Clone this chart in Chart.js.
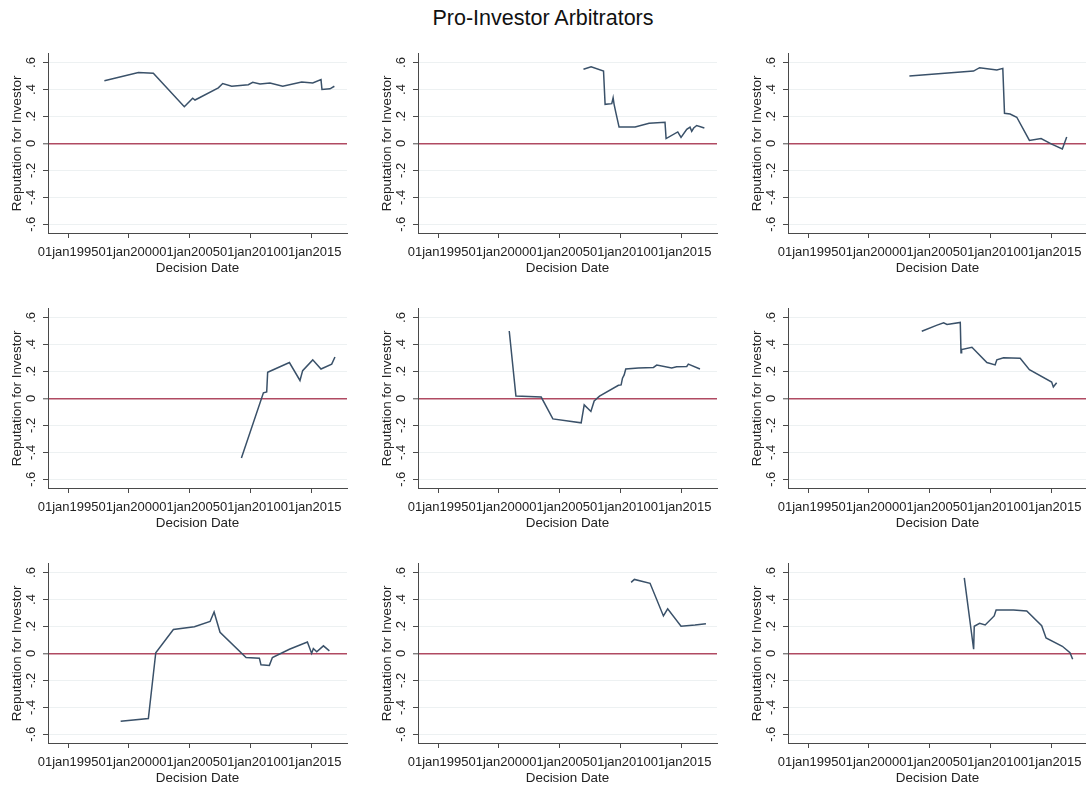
<!DOCTYPE html>
<html>
<head>
<meta charset="utf-8">
<script src="https://cdn.jsdelivr.net/npm/chart.js@4/dist/chart.umd.min.js"></script>
<style>
  html, body { margin: 0; padding: 0; background: #ffffff; overflow: hidden; }
  body { width: 1086px; height: 787px; position: relative; }
  #title { position: absolute; left: 0; top: 6px; width: 1086px; text-align: center;
           font-family: "Liberation Sans", Arial, sans-serif; font-size: 21.5px; color: #111; }
  canvas { position: absolute; }
</style>
</head>
<body>
<div id="title">Pro-Investor Arbitrators</div>

<script>
// Decision dates (decimal years) and arbitrator reputation scores, one pair of arrays per arbitrator
const p1Years = [1997.99, 2000.79, 2002.02, 2004.57, 2005.26, 2005.45, 2007.37, 2007.73, 2008.47, 2009.84, 2010.20, 2010.80, 2011.62, 2012.67, 2014.23, 2015.14, 2015.82, 2015.90, 2016.56, 2016.92];
const p1Rep   = [0.465, 0.526, 0.521, 0.272, 0.335, 0.322, 0.412, 0.444, 0.424, 0.436, 0.453, 0.441, 0.448, 0.424, 0.456, 0.448, 0.473, 0.400, 0.405, 0.424];

const p2Years = [2006.97, 2007.60, 2008.62, 2008.75, 2009.30, 2009.41, 2009.49, 2009.63, 2009.90, 2011.22, 2012.37, 2013.68, 2013.77, 2014.73, 2015.00, 2015.47, 2015.74, 2015.88, 2016.04, 2016.29, 2016.92];
const p2Rep   = [0.550, 0.569, 0.537, 0.290, 0.295, 0.339, 0.290, 0.230, 0.121, 0.121, 0.150, 0.157, 0.036, 0.085, 0.044, 0.104, 0.121, 0.090, 0.114, 0.133, 0.114];

const p3Years = [2003.34, 2008.62, 2009.12, 2010.54, 2011.03, 2011.17, 2011.63, 2012.18, 2013.22, 2014.18, 2015.05, 2015.93, 2016.29];
const p3Rep   = [0.501, 0.537, 0.562, 0.545, 0.557, 0.223, 0.218, 0.194, 0.022, 0.036, -0.005, -0.041, 0.048];

const p4Years = [2009.27, 2011.08, 2011.35, 2011.43, 2011.57, 2013.22, 2014.09, 2014.31, 2015.14, 2015.82, 2016.70, 2016.97];
const p4Rep   = [-0.443, 0.041, 0.048, 0.194, 0.200, 0.266, 0.133, 0.206, 0.286, 0.218, 0.254, 0.307];

const p5Years = [2000.86, 2001.41, 2003.49, 2004.45, 2006.78, 2007.03, 2007.58, 2007.85, 2008.29, 2009.85, 2010.07, 2010.18, 2010.32, 2010.45, 2011.49, 2012.73, 2013.00, 2014.23, 2014.64, 2015.47, 2015.60, 2016.56];
const p5Rep   = [0.500, 0.017, 0.010, -0.152, -0.181, -0.048, -0.097, -0.019, 0.017, 0.097, 0.100, 0.150, 0.174, 0.218, 0.225, 0.230, 0.247, 0.225, 0.235, 0.237, 0.254, 0.218];

const p6Years = [2004.36, 2005.62, 2006.16, 2006.44, 2007.53, 2007.59, 2007.64, 2008.49, 2009.72, 2010.40, 2010.54, 2011.09, 2012.46, 2013.22, 2015.05, 2015.19, 2015.46];
const p6Rep   = [0.498, 0.544, 0.561, 0.549, 0.564, 0.339, 0.363, 0.380, 0.266, 0.249, 0.286, 0.302, 0.298, 0.213, 0.121, 0.085, 0.116];

const p7Years = [1999.33, 2001.61, 2002.22, 2003.67, 2005.40, 2006.69, 2007.02, 2007.51, 2009.65, 2010.75, 2010.88, 2011.57, 2011.82, 2013.22, 2014.70, 2015.05, 2015.19, 2015.47, 2016.02, 2016.51];
const p7Rep   = [-0.503, -0.484, 0.005, 0.177, 0.198, 0.237, 0.307, 0.157, -0.031, -0.036, -0.085, -0.089, -0.031, 0.031, 0.085, 0.000, 0.036, 0.012, 0.056, 0.019];

const p8Years = [2010.89, 2011.16, 2012.45, 2013.55, 2013.90, 2015.00, 2016.15, 2017.05];
const p8Rep   = [0.527, 0.549, 0.520, 0.278, 0.331, 0.201, 0.210, 0.220];

const p9Years = [2007.86, 2008.63, 2008.68, 2009.12, 2009.58, 2010.32, 2010.48, 2011.91, 2013.00, 2014.23, 2014.59, 2015.93, 2016.56, 2016.78];
const p9Rep   = [0.561, 0.031, 0.201, 0.223, 0.211, 0.278, 0.322, 0.322, 0.315, 0.206, 0.114, 0.053, 0.005, -0.044];

// Axis ticks
const dateTicks = [1995, 2000, 2005, 2010, 2015];
const repTicks  = [-0.6, -0.4, -0.2, 0, 0.2, 0.4, 0.6];

const panels = [
  [p1Years, p1Rep], [p2Years, p2Rep], [p3Years, p3Rep],
  [p4Years, p4Rep], [p5Years, p5Rep], [p6Years, p6Rep],
  [p7Years, p7Rep], [p8Years, p8Rep], [p9Years, p9Rep]
];

const FONT = '"Liberation Sans", Arial, Helvetica, sans-serif';
const AXIS = '#4a4a4a';
const LINE = '#3a5169';
const ZERO = '#b04a62';
const GRID = '#edf1f2';

function repLabel(v) {
  if (Math.abs(v) < 1e-9) return '0';
  return (v < 0 ? '-' : '') + '.' + Math.round(Math.abs(v) * 10);
}

const CW = 370, CH = 255;

panels.forEach(([years, rep], i) => {
  const col = i % 3, row = Math.floor(i / 3);
  const cv = document.createElement('canvas');
  cv.width = CW; cv.height = CH;
  cv.style.left = (col * CW) + 'px';
  cv.style.top = (42 + row * CH) + 'px';
  document.body.appendChild(cv);

  new Chart(cv.getContext('2d'), {
    type: 'line',
    data: {
      datasets: [{
        data: years.map((x, k) => ({ x: x, y: rep[k] })),
        borderColor: LINE,
        borderWidth: 1.5,
        pointRadius: 0,
        tension: 0,
        fill: false
      }]
    },
    options: {
      responsive: false,
      animation: false,
      devicePixelRatio: 1,
      layout: { padding: { left: 0, right: 23, top: 8, bottom: 0 } },
      plugins: { legend: { display: false }, tooltip: { enabled: false } },
      scales: {
        x: {
          type: 'linear',
          min: 1993.35,
          max: 2017.96,
          afterBuildTicks: s => { s.ticks = dateTicks.map(v => ({ value: v })); },
          afterFit: s => { s.height = 64; },
          border: { display: true, color: AXIS, width: 1 },
          grid: { drawOnChartArea: false, drawTicks: true, tickLength: 5, tickColor: AXIS, tickWidth: 1 },
          ticks: {
            autoSkip: false, maxRotation: 0, minRotation: 0, padding: 7,
            color: '#222', font: { family: FONT, size: 13 },
            callback: v => '01jan' + v
          },
          title: {
            display: true, text: 'Decision Date', color: '#222',
            font: { family: FONT, size: 13.4 }, padding: { top: 0, bottom: 21 }
          }
        },
        y: {
          type: 'linear',
          min: -0.665,
          max: 0.665,
          afterBuildTicks: s => { s.ticks = repTicks.map(v => ({ value: v })); },
          afterFit: s => { s.width = 48; },
          border: { display: true, color: AXIS, width: 1 },
          grid: {
            drawTicks: true, tickLength: 5, tickColor: AXIS, tickWidth: 1,
            color: c => (c.tick && Math.abs(c.tick.value) < 1e-9) ? ZERO : GRID,
            lineWidth: c => (c.tick && Math.abs(c.tick.value) < 1e-9) ? 1.6 : 1
          },
          ticks: {
            minRotation: 90, maxRotation: 90, crossAlign: 'center', padding: 4,
            color: '#222', font: { family: FONT, size: 13 },
            callback: v => repLabel(v)
          },
          title: {
            display: true, text: 'Reputation for Investor', color: '#222',
            font: { family: FONT, size: 13.4 }, padding: { top: 9, bottom: 0 }
          }
        }
      }
    }
  });
});
</script>
</body>
</html>
